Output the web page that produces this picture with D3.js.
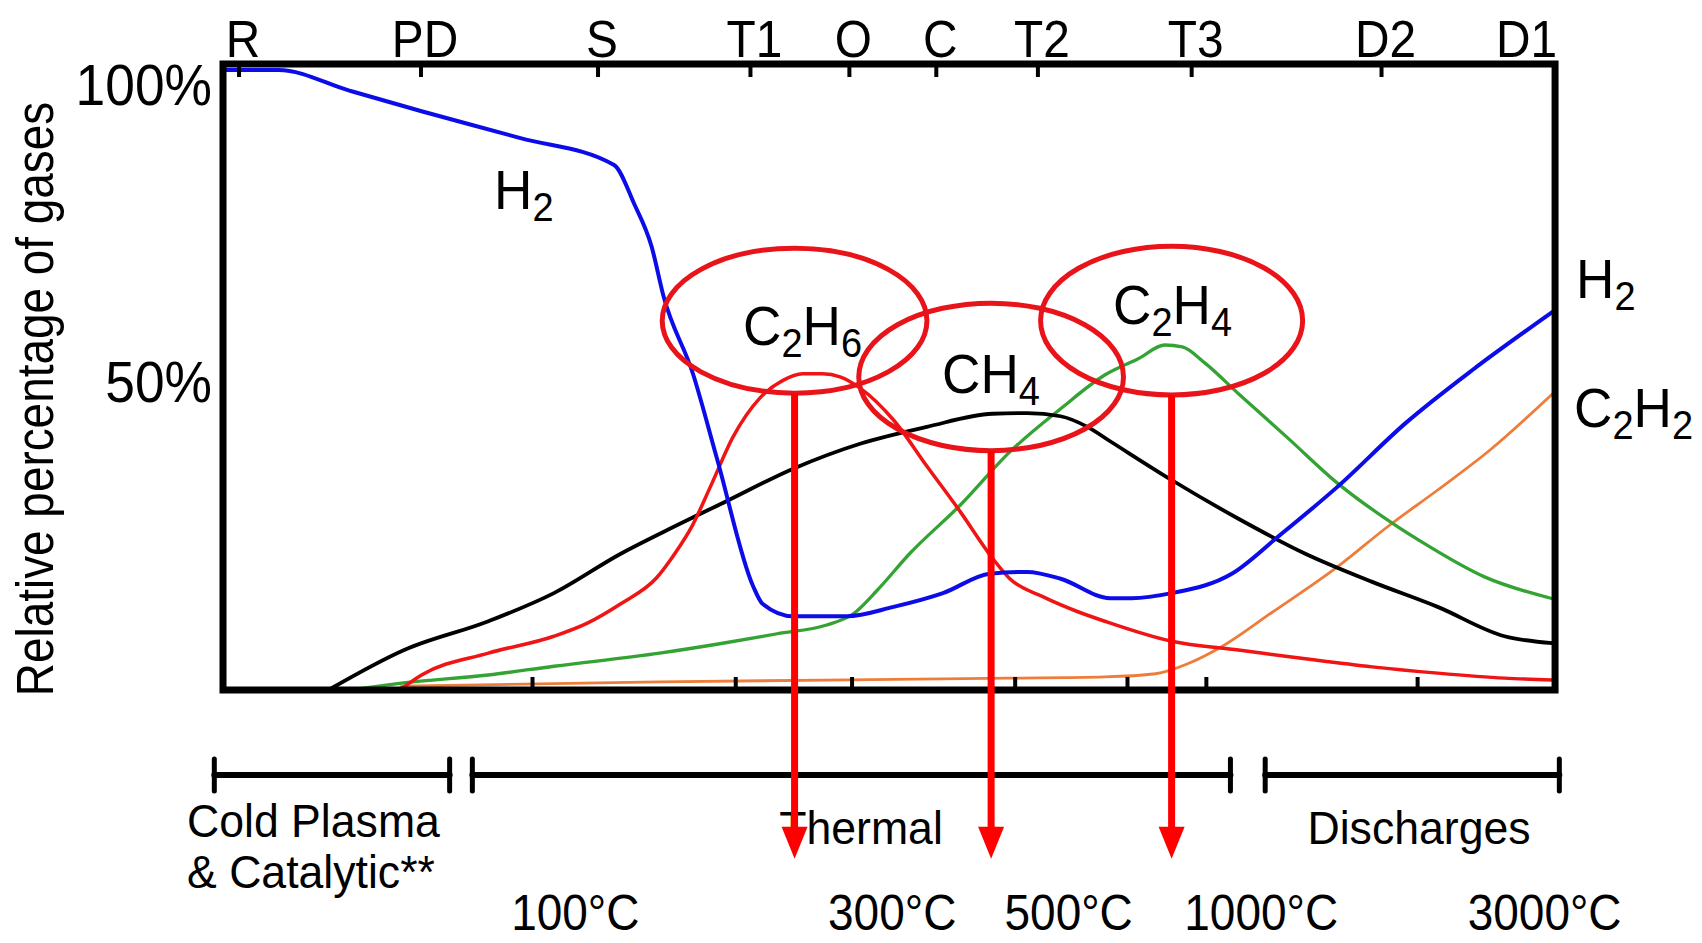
<!DOCTYPE html>
<html>
<head>
<meta charset="utf-8">
<script src="https://cdn.jsdelivr.net/npm/d3@7"></script>
<style>
html,body{margin:0;padding:0;background:#fff;overflow:hidden}
svg{display:block}
</style>
</head>
<body>
<svg id="chart" width="1702" height="943"></svg>
<script>
// ---------------- data ----------------
const categories   = ["R","PD","S","T1","O","C","T2","T3","D2","D1"];
const categoryPos  = [1.35,14.96,28.2,39.6,47.0,53.5,61.1,72.6,86.8,100];
const bottomTickPos = [23.3,38.5,47.2,59.4,67.8,73.7,89.5];
const yTickValues  = [100,50];
const yTickLabels  = ["100%","50%"];
const tempLabels   = ["100°C","300°C","500°C","1000°C","3000°C"];
const tempPos      = [26.5,50.2,63.4,77.8,99.0];
const rangeNames   = [["Cold Plasma","& Catalytic**"],["Thermal"],["Discharges"]];
const rangeStart   = [-0.5,18.8,78.1];
const rangeEnd     = [17.1,75.5,100.1];

// H2 (blue)
const h2X = [0.15,4.3,9.6,15.0,22.4,29.4,30.9,32.2,33.1,35.3,37.1,39.8,40.5,42.8,46.8,50.3,54.0,57.5,60.3,62.8,66.5,68.1,71.1,75.6,79.1,83.5,88.6,93.6,99.6];
const h2Y = [99.2,99.2,95.9,92.6,88.3,84.0,77.8,71.0,63.0,50.6,37.0,16.6,13.8,11.8,11.8,13.3,15.5,18.6,18.9,17.8,14.7,14.7,15.5,18.6,24.6,32.5,42.7,51.2,60.5];
// CH4 (black)
const ch4X = [8.2,13.7,20.0,24.9,29.9,33.2,37.8,42.8,47.8,52.8,57.7,60.3,62.8,64.8,66.5,71.1,76.1,81.1,86.1,91.0,96.0,99.6];
const ch4Y = [0.2,6.4,11.0,15.5,21.8,25.4,30.2,35.4,39.4,42.1,44.2,44.3,43.8,42.1,39.8,33.6,27.4,21.8,17.3,13.3,8.6,7.5];
// C2H6 (red)
const c2h6X = [13.5,15.0,20.0,24.9,27.4,29.9,32.6,34.0,35.2,36.6,38.3,40.3,42.0,43.5,45.0,46.3,47.8,50.3,52.8,55.3,57.7,59.0,61.5,64.0,66.1,71.1,76.1,81.1,86.1,91.0,96.0,99.6];
const c2h6Y = [0.2,2.4,5.9,8.6,10.7,13.8,18.0,22.0,26.1,32.5,40.5,46.7,49.5,50.6,50.6,50.1,48.3,43.2,35.8,28.5,21.1,17.8,14.9,12.6,11.0,7.8,6.4,5.0,3.7,2.7,1.9,1.6];
// C2H4 (green)
const c2h4X = [10.4,13.5,20.0,24.9,32.8,37.3,41.6,45.3,47.3,49.1,51.5,55.3,59.0,62.8,66.1,68.6,70.6,71.9,73.6,76.1,79.8,83.5,87.6,89.8,94.5,99.6];
const c2h4Y = [0.2,1.1,2.4,3.8,5.9,7.4,9.0,10.4,12.2,16.0,21.8,29.6,38.1,45.0,50.4,53.0,55.2,54.9,52.3,47.4,40.3,33.1,26.7,23.7,18.1,14.6];
// C2H2 (orange)
const c2h2X = [13.5,32.8,59.0,66.1,69.9,72.3,74.9,78.6,83.5,87.3,91.0,94.8,99.6];
const c2h2Y = [0.6,1.3,1.9,2.1,2.6,4.2,7.0,12.4,19.7,26.2,32.0,38.2,47.4];

// highlighted key gases (ellipse centre / radii in data units)
const keyGas   = ["C_2H_6","CH_4","C_2H_4"];
const keyCx    = [42.9,57.6,71.1];
const keyCy    = [59.1,50.1,59.1];
const keyRx    = [9.9,9.9,9.8];
const keyRy    = [11.6,11.8,11.9];

// ---------------- setup ----------------
const svg = d3.select("#chart");
const FONT = "'Liberation Sans', Arial, Helvetica, sans-serif";
const x = d3.scaleLinear().domain([0,100]).range([221,1558]);
const y = d3.scaleLinear().domain([0,100]).range([690,65]);

function plainText(parent, px, py, anchor, size, cond, str, rot) {
  return parent.append("text")
    .attr("transform", `translate(${px},${py})${rot ? " rotate(" + rot + ")" : ""} scale(${cond},1)`)
    .attr("text-anchor", anchor)
    .attr("font-family", FONT)
    .attr("font-size", size)
    .attr("fill", "#000")
    .text(str);
}
// chemical formula: "_" marks a subscript digit
function chemText(parent, px, py, anchor, str) {
  const t = parent.append("text")
    .attr("transform", `translate(${px},${py}) scale(0.95,1)`)
    .attr("text-anchor", anchor)
    .attr("font-family", FONT)
    .attr("fill", "#000");
  let sub = false;
  for (let i = 0; i < str.length; i++) {
    if (str[i] === "_") {
      i++;
      t.append("tspan").attr("font-size", 40).attr("dy", sub ? 0 : 12).text(str[i]);
      sub = true;
    } else {
      t.append("tspan").attr("font-size", 56).attr("dy", sub ? -12 : 0).text(str[i]);
      sub = false;
    }
  }
  return t;
}

// ---------------- curves ----------------
const series = [
  {xs: c2h2X, ys: c2h2Y, color: "#ee7d3a", w: 2.8},
  {xs: c2h4X, ys: c2h4Y, color: "#34a334", w: 3.3},
  {xs: ch4X,  ys: ch4Y,  color: "#000000", w: 3.8},
  {xs: c2h6X, ys: c2h6Y, color: "#f01414", w: 3.5},
  {xs: h2X,   ys: h2Y,   color: "#0c0ce8", w: 4}
];
const line = d3.line().x(d => x(d[0])).y(d => y(d[1])).curve(d3.curveMonotoneX);
const gLines = svg.append("g");
series.forEach(s => {
  gLines.append("path")
    .datum(d3.zip(s.xs, s.ys))
    .attr("d", line)
    .attr("fill", "none")
    .attr("stroke", s.color)
    .attr("stroke-width", s.w)
    .attr("stroke-linejoin", "round")
    .attr("stroke-linecap", "round");
});

// ---------------- frame & ticks ----------------
const fL = x(0.15), fR = x(99.78), fT = y(100.16), fB = y(0);
svg.append("rect")
  .attr("x", fL).attr("y", fT)
  .attr("width", fR - fL).attr("height", fB - fT)
  .attr("fill", "none").attr("stroke", "#000").attr("stroke-width", 7);

svg.append("g").selectAll("line").data(categoryPos.slice(0, -1)).join("line")
  .attr("x1", d => x(d)).attr("x2", d => x(d))
  .attr("y1", fT).attr("y2", fT + 13)
  .attr("stroke", "#000").attr("stroke-width", 4);

svg.append("g").selectAll("line").data(bottomTickPos).join("line")
  .attr("x1", d => x(d)).attr("x2", d => x(d))
  .attr("y1", fB).attr("y2", fB - 13)
  .attr("stroke", "#000").attr("stroke-width", 4);

// category labels along the top
const gCat = svg.append("g");
categories.forEach((c, i) => {
  const last = i === categories.length - 1;
  plainText(gCat, last ? fR + 2 : x(categoryPos[i]) + 4, 57, last ? "end" : "middle", 52, 0.92, c);
});

// y labels
const gY = svg.append("g");
yTickValues.forEach((v, i) => {
  plainText(gY, x(-0.67), y(v) + (v === 100 ? 40 : 24), "end", 58, 0.92, yTickLabels[i]);
});
plainText(svg, 53, 399, "middle", 51, 0.9, "Relative percentage of gases", -90);

// ---------------- ellipses ----------------
const gEll = svg.append("g");
keyGas.forEach((g, i) => {
  gEll.append("ellipse")
    .attr("cx", x(keyCx[i])).attr("cy", y(keyCy[i]))
    .attr("rx", x(keyCx[i] + keyRx[i]) - x(keyCx[i]))
    .attr("ry", y(keyCy[i] - keyRy[i]) - y(keyCy[i]))
    .attr("fill", "none").attr("stroke", "#e8141a").attr("stroke-width", 5);
});

// series labels
chemText(svg, 494, 209, "start", "H_2");
chemText(svg, 743, 345, "start", keyGas[0]);
chemText(svg, 942, 393, "start", keyGas[1]);
chemText(svg, 1113, 324, "start", keyGas[2]);
chemText(svg, 1576, 298, "start", "H_2");
chemText(svg, 1574, 427, "start", "C_2H_2");

// ---------------- range bars ----------------
const barY = 775;
const gBars = svg.append("g").attr("stroke", "#000").attr("stroke-linecap", "round");
rangeStart.forEach((s, i) => {
  const x1 = x(s), x2 = x(rangeEnd[i]);
  gBars.append("line").attr("x1", x1).attr("x2", x2).attr("y1", barY).attr("y2", barY).attr("stroke-width", 6);
  [x1, x2].forEach(xx => gBars.append("line").attr("x1", xx).attr("x2", xx)
    .attr("y1", barY - 16).attr("y2", barY + 16).attr("stroke-width", 5));
});
const gRange = svg.append("g");
plainText(gRange, 187, 837, "start", 46, 0.97, rangeNames[0][0]);
plainText(gRange, 187, 888, "start", 46, 0.97, rangeNames[0][1]);
plainText(gRange, 861, 844, "middle", 46, 0.97, rangeNames[1][0]);
plainText(gRange, 1419, 844, "middle", 46, 0.97, rangeNames[2][0]);

// temperature labels
const gTemp = svg.append("g");
tempLabels.forEach((t, i) => plainText(gTemp, x(tempPos[i]), 930, "middle", 50, 0.92, t));

// ---------------- arrows ----------------
const gArr = svg.append("g");
const tipY = y(-27);
keyGas.forEach((g, i) => {
  const ax = x(keyCx[i]);
  const y0 = y(keyCy[i] - keyRy[i]);
  gArr.append("line").attr("x1", ax).attr("x2", ax).attr("y1", y0).attr("y2", tipY - 28)
    .attr("stroke", "#ff0000").attr("stroke-width", 7);
  gArr.append("path")
    .attr("d", `M${ax - 13},${tipY - 32} L${ax + 13},${tipY - 32} L${ax},${tipY} Z`)
    .attr("fill", "#ff0000");
});
</script>
</body>
</html>
